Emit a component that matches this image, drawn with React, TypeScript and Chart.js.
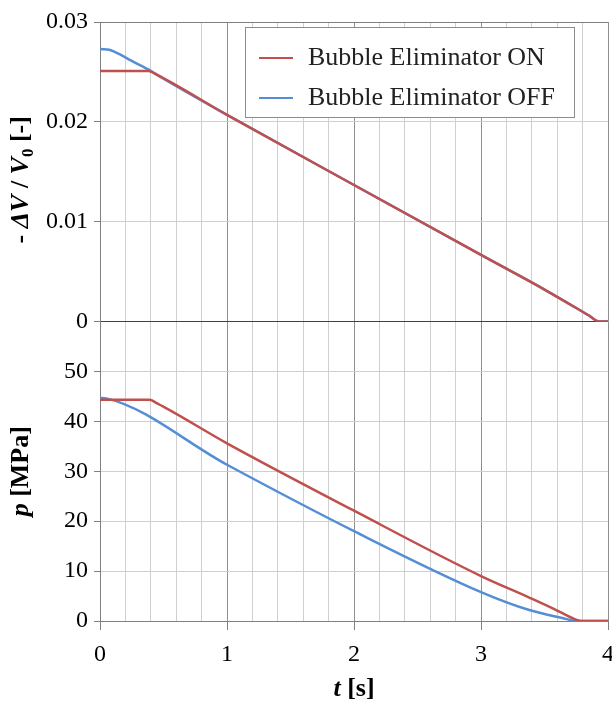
import React, { useEffect, useRef } from 'react';
import { Chart, registerables } from 'chart.js';

Chart.register(...registerables);

// ---- data ----
const seriesLabels = ['Bubble Eliminator ON', 'Bubble Eliminator OFF'];
const seriesColors = ['#C0504D', '#558ED5'];

// Top panel: -ΔV/V0 [-]
const volTimeOn = [0, 0.38, 0.45, 1, 2, 3, 3.5, 3.85, 3.93, 4];
const volOn = [0.0251, 0.0251, 0.0247, 0.0207, 0.01367, 0.00667, 0.0032, 0.0006, 0, 0];
const volTimeOff = [0, 0.08, 0.15, 0.25, 0.4, 0.45, 1, 2, 3, 3.5, 3.85, 3.93, 4];
const volOff = [0.0273, 0.0272, 0.0268, 0.0261, 0.0251, 0.0247, 0.0207, 0.01367, 0.00667, 0.0032, 0.0006, 0, 0];

// Bottom panel: p [MPa]
const presTimeOn = [0, 0.39, 0.45, 1, 2, 3, 3.38, 3.6, 3.7, 3.79, 4];
const presOn = [44.3, 44.3, 43.6, 35.6, 22.1, 9.0, 4.7, 2.1, 0.8, 0, 0];
const presTimeOff = [0, 0.05, 1, 2, 3, 3.38, 3.64, 3.75, 4];
const presOff = [44.7, 44.6, 31.3, 18.0, 5.8, 2.2, 0.6, 0, 0];

// Axis ticks
const xTicks = [0, 1, 2, 3, 4];
const volTicks = [0, 0.01, 0.02, 0.03];
const presTicks = [0, 10, 20, 30, 40, 50];

const FONT = "'Liberation Serif', 'Times New Roman', serif";

type Seg = { t: string; it?: boolean; sub?: boolean };

function drawRich(ctx: CanvasRenderingContext2D, segs: Seg[], cx: number, cy: number, rotate: boolean, size: number) {
  ctx.save();
  ctx.translate(cx, cy);
  if (rotate) ctx.rotate(-Math.PI / 2);
  const fontFor = (s: Seg) => `${s.it ? 'italic ' : ''}bold ${s.sub ? Math.round(size * 0.65) : size}px ${FONT}`;
  let total = 0;
  const widths = segs.map((s) => {
    ctx.font = fontFor(s);
    const w = ctx.measureText(s.t).width;
    total += w;
    return w;
  });
  let x = -total / 2;
  ctx.textBaseline = 'middle';
  ctx.textAlign = 'left';
  ctx.fillStyle = '#000';
  segs.forEach((s, i) => {
    ctx.font = fontFor(s);
    ctx.fillText(s.t, x, s.sub ? size * 0.28 : 0);
    x += widths[i];
  });
  ctx.restore();
}

const titlePlugin = {
  id: 'richTitles',
  afterDraw(chart: any) {
    const ctx = chart.ctx as CanvasRenderingContext2D;
    const yV = chart.scales.yV;
    const yP = chart.scales.yP;
    const xs = chart.scales.x;
    drawRich(ctx, [
      { t: '- ' }, { t: 'ΔV', it: true }, { t: ' / ' }, { t: 'V', it: true }, { t: '0', sub: true }, { t: ' [-]' },
    ], 21, (yV.top + yV.bottom) / 2 + 8, true, 26);
    drawRich(ctx, [{ t: 'p', it: true }, { t: ' [MPa]' }], 21, (yP.top + yP.bottom) / 2, true, 26);
    drawRich(ctx, [{ t: 't', it: true }, { t: ' [s]' }], (xs.left + xs.right) / 2, 689, false, 26);
  },
  afterDatasetsDraw(chart: any) {
    const ctx = chart.ctx as CanvasRenderingContext2D;
    const area = chart.chartArea;
    const bx = area.left + 145;
    const by = area.top + 5;
    const bw = 329;
    const bh = 90;
    ctx.save();
    ctx.fillStyle = '#fff';
    ctx.fillRect(bx, by, bw, bh);
    ctx.strokeStyle = '#8c8c8c';
    ctx.lineWidth = 1;
    ctx.strokeRect(bx + 0.5, by + 0.5, bw, bh);
    ctx.font = `26px ${FONT}`;
    ctx.textBaseline = 'middle';
    ctx.textAlign = 'left';
    seriesLabels.forEach((lab, i) => {
      const yy = by + 31 + i * 40;
      ctx.strokeStyle = seriesColors[i];
      ctx.lineWidth = 2;
      ctx.beginPath();
      ctx.moveTo(bx + 14, yy);
      ctx.lineTo(bx + 48, yy);
      ctx.stroke();
      ctx.fillStyle = '#222';
      ctx.fillText(lab, bx + 63, yy);
    });
    ctx.restore();
  },
};

const isInt = (v: number) => Math.abs(v - Math.round(v)) < 1e-6;
const near = (v: number, arr: number[]) => arr.some((a) => Math.abs(a - v) < 1e-9);

export default function App() {
  const ref = useRef<HTMLCanvasElement>(null);

  useEffect(() => {
    if (!ref.current) return;
    const mk = (ts: number[], vs: number[]) => ts.map((t, i) => ({ x: t, y: vs[i] }));
    const common = { pointRadius: 0, borderWidth: 2.5, fill: false, cubicInterpolationMode: 'monotone' as const };
    const chart = new Chart(ref.current, {
      type: 'line',
      data: {
        datasets: [
          { label: seriesLabels[0], data: mk(volTimeOn, volOn), borderColor: seriesColors[0], yAxisID: 'yV', ...common },
          { label: seriesLabels[0], data: mk(presTimeOn, presOn), borderColor: seriesColors[0], yAxisID: 'yP', ...common },
          { label: seriesLabels[1], data: mk(volTimeOff, volOff), borderColor: seriesColors[1], yAxisID: 'yV', ...common },
          { label: seriesLabels[1], data: mk(presTimeOff, presOff), borderColor: seriesColors[1], yAxisID: 'yP', ...common },
        ],
      },
      options: {
        responsive: false,
        animation: false,
        layout: { padding: { top: 22, right: 4, left: 0, bottom: 0 } },
        plugins: { legend: { display: false }, tooltip: { enabled: false } },
        scales: {
          x: {
            type: 'linear',
            min: 0,
            max: 4,
            afterFit: (s: any) => { s.height = 83; s.paddingRight = 4; s.paddingLeft = 0; },
            border: { color: '#808080', width: 1 },
            grid: {
              color: (c: any) => (isInt(c.tick.value) ? '#8f8f8f' : '#d0d0d0'),
              tickColor: (c: any) => (isInt(c.tick.value) ? '#808080' : 'rgba(0,0,0,0)'),
              tickLength: 9,
              lineWidth: 1,
            },
            ticks: {
              stepSize: 0.2,
              maxTicksLimit: 30,
              autoSkip: false,
              maxRotation: 0,
              padding: 10,
              color: '#000',
              font: { family: FONT, size: 24 },
              callback: (v: any) => (near(Number(v), xTicks) ? String(Math.round(Number(v))) : ''),
            },
          },
          yP: {
            type: 'linear',
            position: 'left',
            stack: 'panels',
            stackWeight: 1,
            min: 0,
            max: 60,
            afterFit: (s: any) => { s.width = 100; },
            border: { color: '#808080', width: 1 },
            grid: {
              color: (c: any) => (c.tick.value === 60 ? 'rgba(0,0,0,0)' : '#cfcfcf'),
              tickColor: '#808080',
              tickLength: 6,
            },
            ticks: {
              stepSize: 10,
              autoSkip: false,
              padding: 6,
              color: '#000',
              font: { family: FONT, size: 24 },
              callback: (v: any) => (near(Number(v), presTicks) ? String(v) : ''),
            },
          },
          yV: {
            type: 'linear',
            position: 'left',
            stack: 'panels',
            stackWeight: 1,
            min: 0,
            max: 0.03,
            afterFit: (s: any) => { s.width = 100; },
            border: { color: '#808080', width: 1 },
            grid: {
              color: (c: any) => (Math.abs(c.tick.value) < 1e-9 ? '#404040' : Math.abs(c.tick.value - 0.03) < 1e-9 ? '#808080' : '#cfcfcf'),
              tickColor: '#808080',
              tickLength: 6,
            },
            ticks: {
              stepSize: 0.01,
              autoSkip: false,
              padding: 6,
              color: '#000',
              font: { family: FONT, size: 24 },
              callback: (v: any) => {
                const n = Number(v);
                if (!near(n, volTicks)) return '';
                return n === 0 ? '0' : n.toFixed(2);
              },
            },
          },
        },
      },
      plugins: [titlePlugin],
    });
    return () => chart.destroy();
  }, []);

  return (
    <div style={{ position: 'absolute', left: 0, top: 0, width: 612, height: 704, background: '#fff' }}>
      <canvas ref={ref} width={612} height={704} style={{ display: 'block' }} />
    </div>
  );
}
